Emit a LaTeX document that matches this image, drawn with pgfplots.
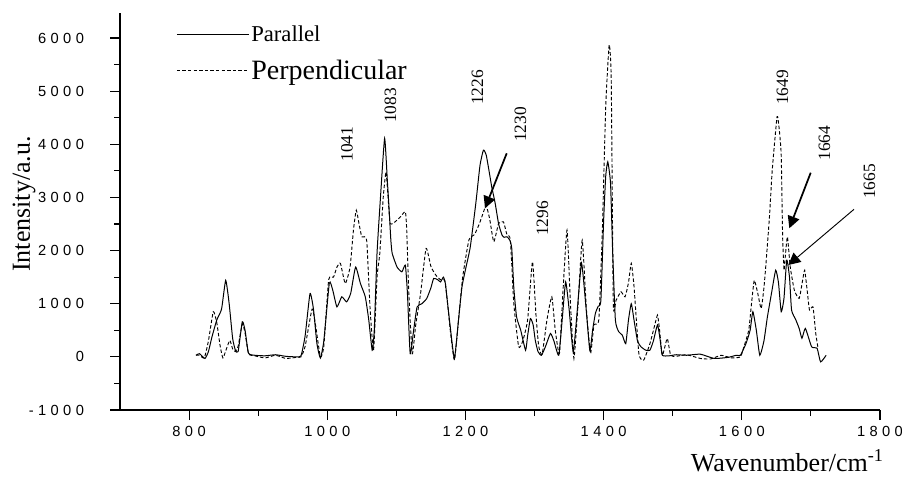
\documentclass[border=0pt]{standalone}
\usepackage{pgfplots}
\pgfplotsset{compat=1.18}
\usetikzlibrary{arrows.meta}
\usepackage{fontspec}
\setmainfont{Liberation Serif}
\newfontfamily\tickfont[LetterSpace=30]{Liberation Sans}
\begin{document}
\begin{tikzpicture}
\useasboundingbox (-90pt,-49.5pt) rectangle (586.5pt,307.5pt);
\begin{axis}[
  at={(0,0)}, anchor=south west,
  scale only axis, width=570pt, height=297.75pt,
  xmin=700, xmax=1800, ymin=-1000, ymax=6470,
  axis lines*=left,
  tick align=outside,
  xtick={800,1000,1200,1400,1600,1800},
  xticklabels={800,1000,1200,1400,1600,1800},
  ytick={-1000,0,1000,2000,3000,4000,5000,6000},
  yticklabels={-1000,0,1000,2000,3000,4000,5000,6000},
  minor x tick num=1, minor y tick num=1,
  major tick length=7.5pt, minor tick length=4.5pt,
  ticklabel style={font=\tickfont\fontsize{11}{13}\selectfont},
  yticklabel style={xshift=-16pt},
  xticklabel style={yshift=-1pt},
  axis line style={line width=0.9pt},
  every tick/.style={line width=0.8pt, black},
  legend style={draw=none, fill=none, at={(rel axis cs:0.0737,0.975)}, anchor=north west,
    inner sep=0pt, row sep=8pt, nodes={inner xsep=1.5pt, inner ysep=2pt}},
  legend cell align=left,
  legend image code/.code={\draw[#1] (0pt,0pt) -- (54pt,0pt);},
]
\addplot[black, line width=0.75pt, smooth, tension=0.3] coordinates {
(810,30)(815,60)(823,-30)(828,100)(833,370)(840,690)(847,900)(853,1440)(858,1000)(863,350)
(867,125)(871,100)(877,660)(881,500)(886,70)(895,30)(910,20)(925,40)(940,10)(955,0)
(962,20)(968,400)(975,1190)(980,900)(985,250)(990,-20)(995,300)(1003,1390)(1008,1250)(1014,940)
(1021,1130)(1028,1035)(1034,1200)(1041,1690)(1048,1380)(1055,1130)(1060,700)(1065,125)(1068,500)(1072,1945)
(1077,3000)(1083,4110)(1087,3300)(1089,2890)(1092,2200)(1094,1945)(1101,1690)(1108,1600)(1113,1725)(1116,1200)
(1120,60)(1125,500)(1130,940)(1137,1000)(1144,1100)(1150,1300)(1154,1475)(1160,1450)(1164,1410)(1168,1500)
(1171,1380)(1175,900)(1178,565)(1184,-30)(1190,700)(1195,1320)(1201,1700)(1207,2070)(1215,2890)(1221,3600)
(1226,3890)(1230,3800)(1234,3510)(1238,3200)(1243,2890)(1248,2500)(1253,2290)(1256,2250)(1260,2260)(1264,2200)
(1267,2040)(1270,1300)(1274,750)(1280,500)(1287,125)(1290,400)(1294,720)(1298,600)(1301,315)(1305,100)
(1310,30)(1316,200)(1323,440)(1328,300)(1335,30)(1340,700)(1345,1410)(1350,900)(1356,95)(1362,900)
(1368,1760)(1374,1000)(1380,125)(1384,500)(1388,815)(1392,950)(1396,1065)(1400,2570)(1403,3400)(1406,3670)
(1410,3260)(1413,2000)(1417,690)(1422,470)(1427,410)(1432,250)(1436,700)(1440,1000)(1444,690)(1449,300)
(1454,190)(1461,125)(1467,125)(1472,300)(1478,600)(1482,300)(1485,30)(1495,20)(1505,40)(1520,30)
(1540,50)(1560,-30)(1580,-10)(1592,30)(1598,30)(1606,250)(1612,500)(1616,850)(1621,500)(1626,30)
(1632,300)(1637,750)(1643,1200)(1649,1630)(1653,1400)(1657,850)(1661,1100)(1665,1820)(1669,1500)(1672,880)
(1678,700)(1683,535)(1687,350)(1692,535)(1701,190)(1709,160)(1714,-95)(1722,30)
};
\addlegendentry{\fontsize{17}{19}\selectfont Parallel}
\addplot[black, line width=0.7pt, dash pattern=on 2.6pt off 1.6pt, smooth, tension=0.3] coordinates {
(810,30)(815,30)(822,-20)(828,300)(835,850)(840,650)(845,200)(849,-20)(854,150)(859,310)
(863,150)(867,100)(871,200)(877,620)(881,450)(886,60)(895,20)(910,-20)(925,30)(940,-30)
(955,-10)(962,0)(968,200)(978,900)(983,600)(990,0)(995,200)(1002,1450)(1009,1500)(1014,1690)
(1019,1760)(1026,1380)(1033,1690)(1038,2400)(1042,2760)(1046,2500)(1050,2260)(1057,2195)(1062,900)(1067,125)
(1072,1500)(1076,1945)(1081,3000)(1085,3480)(1088,3000)(1091,2510)(1098,2540)(1106,2635)(1113,2730)(1115,2385)
(1118,1200)(1123,60)(1128,600)(1135,1190)(1143,2040)(1150,1700)(1157,1540)(1164,1450)(1170,1440)(1175,900)
(1178,500)(1184,-60)(1190,700)(1196,1500)(1205,2200)(1213,2300)(1220,2500)(1227,2760)(1230,2850)(1235,2600)
(1241,2165)(1248,2510)(1255,2540)(1260,2300)(1265,2200)(1270,1000)(1277,190)(1283,300)(1290,700)(1297,1790)
(1302,800)(1306,200)(1311,50)(1318,700)(1325,1130)(1330,500)(1336,60)(1341,1200)(1347,2385)(1352,1000)
(1357,-30)(1363,1000)(1369,2195)(1375,900)(1381,60)(1386,600)(1393,700)(1398,2320)(1403,4700)(1408,5870)
(1411,5210)(1414,1000)(1418,1065)(1425,1225)(1431,1130)(1436,1400)(1440,1760)(1444,1320)(1451,60)(1458,-60)
(1467,250)(1474,600)(1478,785)(1481,500)(1485,30)(1492,345)(1497,30)(1505,10)(1520,40)(1540,-30)
(1555,-40)(1570,30)(1585,-20)(1598,0)(1603,190)(1610,500)(1614,1000)(1618,1440)(1623,1200)(1628,910)
(1632,1300)(1635,1760)(1640,2635)(1644,3510)(1651,4520)(1654,4300)(1657,3800)(1659,2300)(1661,1630)(1663,1900)
(1666,2260)(1670,1700)(1676,1255)(1683,1100)(1688,1440)(1691,1630)(1695,1200)(1698,880)(1703,940)(1707,440)
(1710,190)
};
\addlegendentry{\fontsize{21}{24}\selectfont Perpendicular}
\end{axis}
\begin{scope}[x=0.75pt,y=-0.75pt,shift={(-90pt,307.5pt)}]
  \node[rotate=90, font=\fontsize{19.5}{22}\selectfont] at (24,204) {Intensity/a.u.};
  \node[anchor=base east, font=\fontsize{19.5}{22}\selectfont, inner sep=0pt] at (884,471.5) {Wavenumber/cm\textsuperscript{-1}};
  \begin{scope}[every node/.style={rotate=90, font=\fontsize{13}{15}\selectfont, inner sep=0pt}]
    \node at (347,144) {1041};
    \node at (390.5,105.5) {1083};
    \node at (477.5,87.5) {1226};
    \node at (520.5,124.5) {1230};
    \node at (542.5,218.5) {1296};
    \node at (782.5,87.5) {1649};
    \node at (824.5,143) {1664};
    \node at (869.5,181.5) {1665};
  \end{scope}
  \draw[line width=1.3pt, -{Triangle[length=9pt,width=9pt]}] (506.7,153.3) -- (485,208.3);
  \draw[line width=1.3pt, -{Triangle[length=9pt,width=9pt]}] (810.7,172.7) -- (789.3,228.3);
  \draw[line width=0.7pt, -{Triangle[length=9pt,width=9pt]}] (854,209.3) -- (788.3,265);
\end{scope}
\end{tikzpicture}
\end{document}
